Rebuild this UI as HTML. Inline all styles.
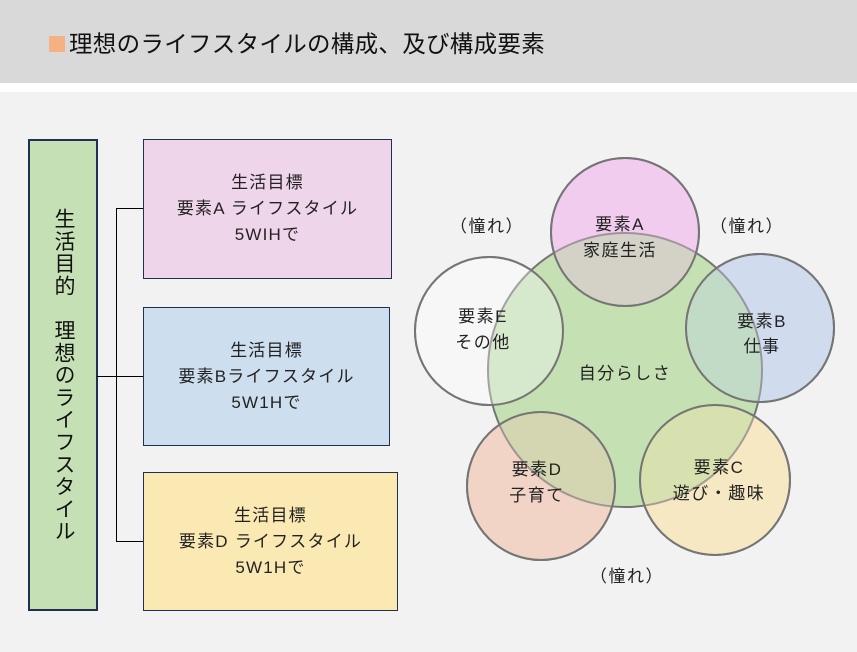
<!DOCTYPE html>
<html><head><meta charset="utf-8"><style>
body{margin:0;width:857px;height:652px;background:#f2f2f2;position:relative;overflow:hidden;font-family:"Liberation Sans","Noto Sans CJK JP",sans-serif;color:#111}
.hdr{position:absolute;left:0;top:0;width:857px;height:83px;background:#d9d9d9}
.wh{position:absolute;left:0;top:83px;width:857px;height:9px;background:#fff}
.t{position:absolute;left:49px;top:29px;font-size:23.5px;line-height:30px;letter-spacing:0.3px}
.sq{display:inline-block;width:16px;height:16px;background:#f4b183;margin-right:4px;vertical-align:0px}
.lb{position:absolute;left:28px;top:139px;width:66px;height:468px;background:#c5e0b4;border:2px solid #1f3050}
.vt{position:absolute;left:0;top:0;width:66px;height:468px;display:flex;align-items:center;justify-content:center}
.vt span{writing-mode:vertical-rl;font-size:21px;letter-spacing:1.3px}
.bx{position:absolute;border:1.5px solid #1f3050;box-sizing:border-box;display:flex;align-items:center;justify-content:center;text-align:center;font-size:17px;line-height:26px;letter-spacing:1.2px;color:#222}
.ln{position:absolute;background:#000}
</style></head><body>
<div class="hdr"></div><div class="wh"></div>
<div class="t"><span class="sq"></span>理想のライフスタイルの構成、及び構成要素</div>
<div class="lb"><div class="vt"><span>生活目的　理想のライフスタイル</span></div></div>
<div class="ln" style="left:97px;top:376px;width:20px;height:1px"></div>
<div class="ln" style="left:116px;top:208px;width:1px;height:334px"></div>
<div class="ln" style="left:116px;top:208px;width:27px;height:1px"></div>
<div class="ln" style="left:116px;top:376px;width:27px;height:1px"></div>
<div class="ln" style="left:116px;top:541px;width:27px;height:1px"></div>
<div class="bx" style="left:143px;top:139px;width:249px;height:140px;background:#efd5ea">生活目標<br>要素A ライフスタイル<br>5WIHで</div>
<div class="bx" style="left:143px;top:307px;width:247px;height:139px;background:#cddeee">生活目標<br>要素Bライフスタイル<br>5W1Hで</div>
<div class="bx" style="left:143px;top:472px;width:255px;height:139px;background:#fbe9b4">生活目標<br>要素D ライフスタイル<br>5W1Hで</div>
<svg style="position:absolute;left:0;top:0" width="857" height="652">
<g stroke="#757575" stroke-width="2">
<circle cx="625" cy="232" r="74" fill="#f2ccee"/>
<circle cx="760" cy="328" r="74" fill="#d0dcee"/>
<circle cx="715" cy="480" r="75" fill="#f5e8c2"/>
<circle cx="541" cy="486" r="74" fill="#f2d4c6"/>
<circle cx="489" cy="331" r="74" fill="#f7f7f7"/>
<circle cx="625" cy="370" r="137" fill="rgb(178,216,153)" fill-opacity="0.7"/>
<circle cx="625" cy="232" r="74" fill="#f2ccee" fill-opacity="0.35"/>
<circle cx="760" cy="328" r="74" fill="#d0dcee" fill-opacity="0.35"/>
<circle cx="715" cy="480" r="75" fill="#f5e8c2" fill-opacity="0.35"/>
<circle cx="541" cy="486" r="74" fill="#f2d4c6" fill-opacity="0.35"/>
<circle cx="489" cy="331" r="74" fill="#f7f7f7" fill-opacity="0.35"/>
</g>
<g font-family="Liberation Sans, Noto Sans CJK JP, sans-serif" font-size="17" fill="#222" text-anchor="middle" letter-spacing="1.5">
<text x="620" y="230">要素A</text><text x="620" y="256">家庭生活</text>
<text x="762" y="327">要素B</text><text x="762" y="352">仕事</text>
<text x="719" y="473">要素C</text><text x="719" y="499">遊び・趣味</text>
<text x="537" y="475">要素D</text><text x="537" y="501">子育て</text>
<text x="483" y="322">要素E</text><text x="483" y="348">その他</text>
<text x="625" y="379">自分らしさ</text>
<text x="487" y="232">（憧れ）</text>
<text x="747" y="232">（憧れ）</text>
<text x="627" y="582">（憧れ）</text>
</g>
</svg>
</body></html>
